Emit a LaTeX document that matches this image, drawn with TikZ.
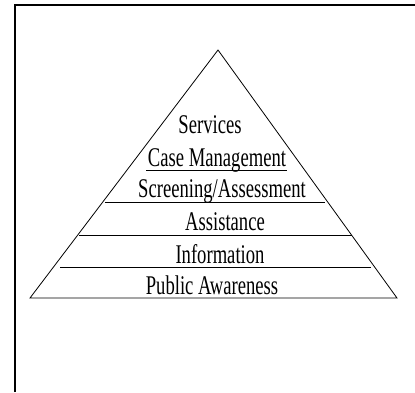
\documentclass[tikz,border=0pt]{standalone}
\usepackage{fontspec}
\setmainfont{Liberation Serif}
\usepackage{tikz}
\usetikzlibrary{shapes}

\begin{document}
\begin{tikzpicture}[x=1pt,y=-1pt]

	\def\tsq#1{\scalebox{0.69}[1]{#1}}
	\tikzset{level/.style={anchor=base,inner sep=0pt,font=\fontsize{27}{27}\selectfont}}

	\useasboundingbox (0,0) rectangle (415,392);
	\draw[line width=1.5pt] (15,392) -- (15,5) -- (415,5);

	\coordinate (top) at (218,50);
	\coordinate (bl) at (30,298);
	\coordinate (br) at (397,298);
	\draw[line width=0.8pt] (bl) -- (top) -- (br) -- cycle;

	\node[level] (serv) at (210,133) {\tsq{Services}};
	\node[level] (case) at (217,166) {\tsq{Case Management}};
	\node[level] (scr) at (222,197) {\tsq{Screening/Assessment}};
	\node[level] (assi) at (225,230) {\tsq{Assistance}};
	\node[level] (info) at (220,263) {\tsq{Information}};
	\node[level] (pub) at (212,294) {\tsq{Public Awareness}};

	\draw[line width=0.8pt] (146,170) -- (287,170);
	\draw[line width=0.8pt] (105,202) -- (325,202);
	\draw[line width=0.8pt] (79,235) -- (352,235);
	\draw[line width=0.8pt] (60,267) -- (371,267);

\end{tikzpicture}
\end{document}
